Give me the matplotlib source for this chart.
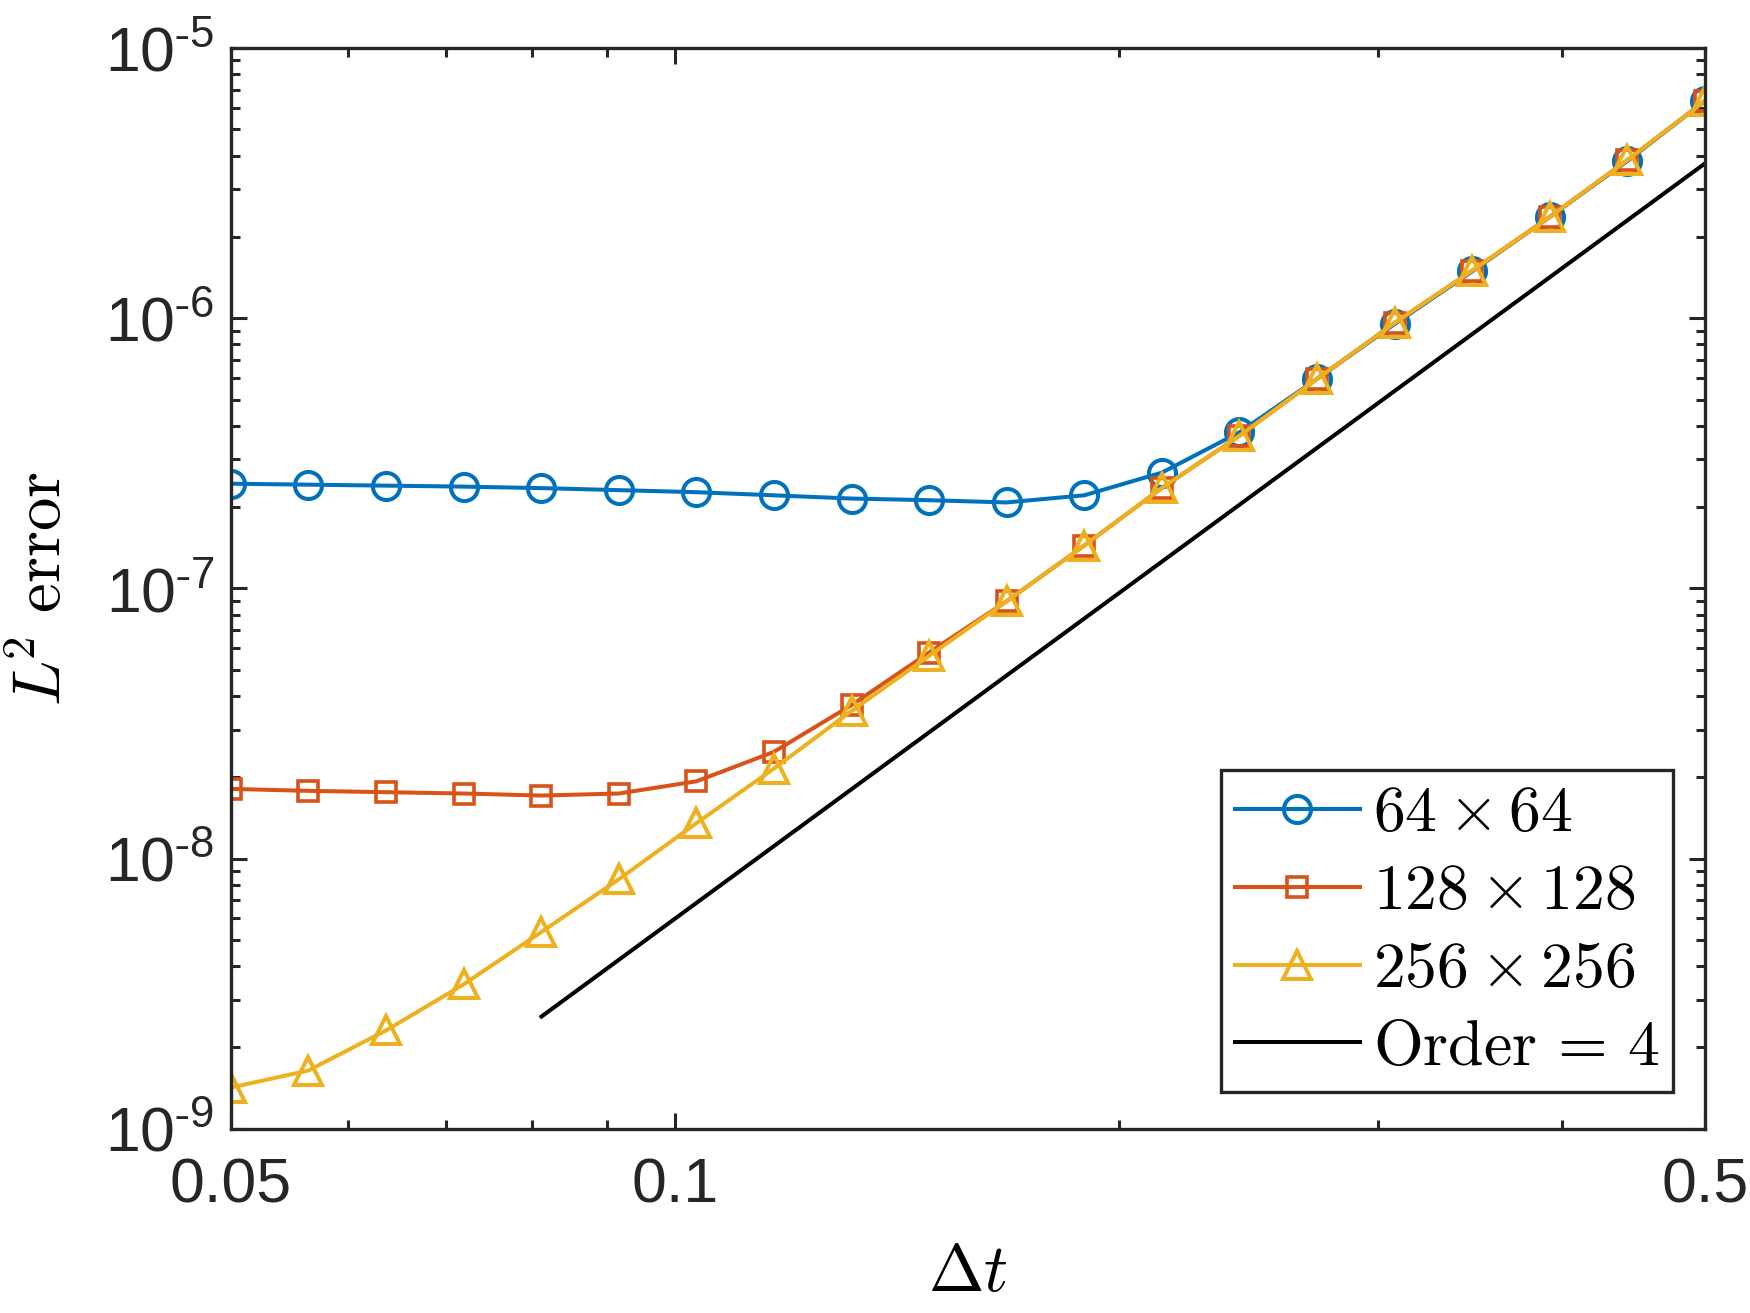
import math

import matplotlib

matplotlib.use("Agg")
import matplotlib.pyplot as plt
from matplotlib.ticker import FixedLocator, FuncFormatter, NullFormatter

# time steps (log-spaced between 0.05 and 0.5)
dt = [0.0500, 0.0564, 0.0637, 0.0719, 0.0812, 0.0916, 0.1034, 0.1167, 0.1318, 0.1487,
      0.1679, 0.1895, 0.2139, 0.2415, 0.2726, 0.3077, 0.3474, 0.3921, 0.4427, 0.5000]

err_64 = [2.44e-7, 2.42e-7, 2.40e-7, 2.38e-7, 2.35e-7, 2.31e-7, 2.27e-7, 2.21e-7, 2.15e-7, 2.12e-7,
          2.08e-7, 2.21e-7, 2.68e-7, 3.78e-7, 5.96e-7, 9.51e-7, 1.49e-6, 2.37e-6, 3.82e-6, 6.39e-6]
err_128 = [1.81e-8, 1.78e-8, 1.76e-8, 1.74e-8, 1.71e-8, 1.74e-8, 1.93e-8, 2.48e-8, 3.70e-8, 5.78e-8,
           8.96e-8, 1.44e-7, 2.35e-7, 3.67e-7, 5.96e-7, 9.60e-7, 1.50e-6, 2.37e-6, 3.85e-6, 6.39e-6]
err_256 = [1.42e-9, 1.64e-9, 2.31e-9, 3.42e-9, 5.35e-9, 8.37e-9, 1.35e-8, 2.15e-8, 3.52e-8, 5.62e-8,
           8.96e-8, 1.44e-7, 2.35e-7, 3.67e-7, 5.96e-7, 9.60e-7, 1.50e-6, 2.37e-6, 3.85e-6, 6.39e-6]

# reference slope line, end points
order_x = [0.0812, 0.5]
order_y = [2.6e-9, 3.75e-6]

labels = [r"$64\times64$", r"$128\times128$", r"$256\times256$", r"$\mathrm{Order}\,=\,4$"]

x_ticks = [0.05, 0.1, 0.5]
x_minor = [0.06, 0.07, 0.08, 0.09, 0.2, 0.3, 0.4]
y_ticks = [1e-9, 1e-8, 1e-7, 1e-6, 1e-5]
y_minor = [m * 10.0 ** e for e in range(-9, -5) for m in range(2, 10)]

AX_COLOR = "#262626"
plt.rcParams["font.family"] = ["Liberation Sans", "DejaVu Sans"]
plt.rcParams["mathtext.fontset"] = "cm"

fig = plt.figure(figsize=(17.5, 13.13), dpi=100)
ax = fig.add_axes([0.132, 0.1404, 0.8425, 0.823])

LW = 2.9
ax.plot(dt, err_64, color="#0072BD", lw=LW, marker="o", ms=19.5, mfc="none", mew=LW, label=labels[0])
ax.plot(dt, err_128, color="#D95319", lw=LW, marker="s", ms=14.5, mfc="none", mew=LW * 0.9, label=labels[1])
ax.plot(dt, err_256, color="#EDB120", lw=LW, marker="^", ms=20, mfc="none", mew=LW, label=labels[2])
ax.plot(order_x, order_y, color="black", lw=LW, label=labels[3])

ax.set_xscale("log")
ax.set_yscale("log")
ax.set_xlim(0.05, 0.5)
ax.set_ylim(1e-9, 1e-5)

ax.xaxis.set_major_locator(FixedLocator(x_ticks))
ax.xaxis.set_minor_locator(FixedLocator(x_minor))
ax.xaxis.set_major_formatter(FuncFormatter(lambda v, p: f"{v:g}"))
ax.xaxis.set_minor_formatter(NullFormatter())


def exp_label(v, pos):
    return r"$\mathregular{10^{\text{-}%d}}$" % abs(round(math.log10(v)))


ax.yaxis.set_major_locator(FixedLocator(y_ticks))
ax.yaxis.set_minor_locator(FixedLocator(y_minor))
ax.yaxis.set_major_formatter(FuncFormatter(exp_label))
ax.yaxis.set_minor_formatter(NullFormatter())

ax.tick_params(which="both", direction="in", top=True, right=True, color=AX_COLOR,
               labelcolor=AX_COLOR, labelsize=45)
ax.tick_params(which="major", length=11.5, width=2.2)
ax.tick_params(which="minor", length=6.5, width=2.2)
ax.tick_params(axis="x", pad=20)
ax.tick_params(axis="y", pad=12)
for s in ax.spines.values():
    s.set_linewidth(2.4)
    s.set_color(AX_COLOR)

ax.set_xlabel(r"$\Delta t$", fontsize=48, labelpad=20)
ax.set_ylabel(r"$L^{\!2}\ \mathrm{error}$", fontsize=48, labelpad=22)

leg = ax.legend(loc="lower right", bbox_to_anchor=(0.978, 0.034), fontsize=46, frameon=True,
                fancybox=False, framealpha=1, edgecolor=AX_COLOR, handlelength=1.95,
                handletextpad=0.2, labelspacing=0.28, borderpad=0.22, borderaxespad=0)
leg.get_frame().set_linewidth(2.4)

fig.savefig("out.png", dpi=100)
